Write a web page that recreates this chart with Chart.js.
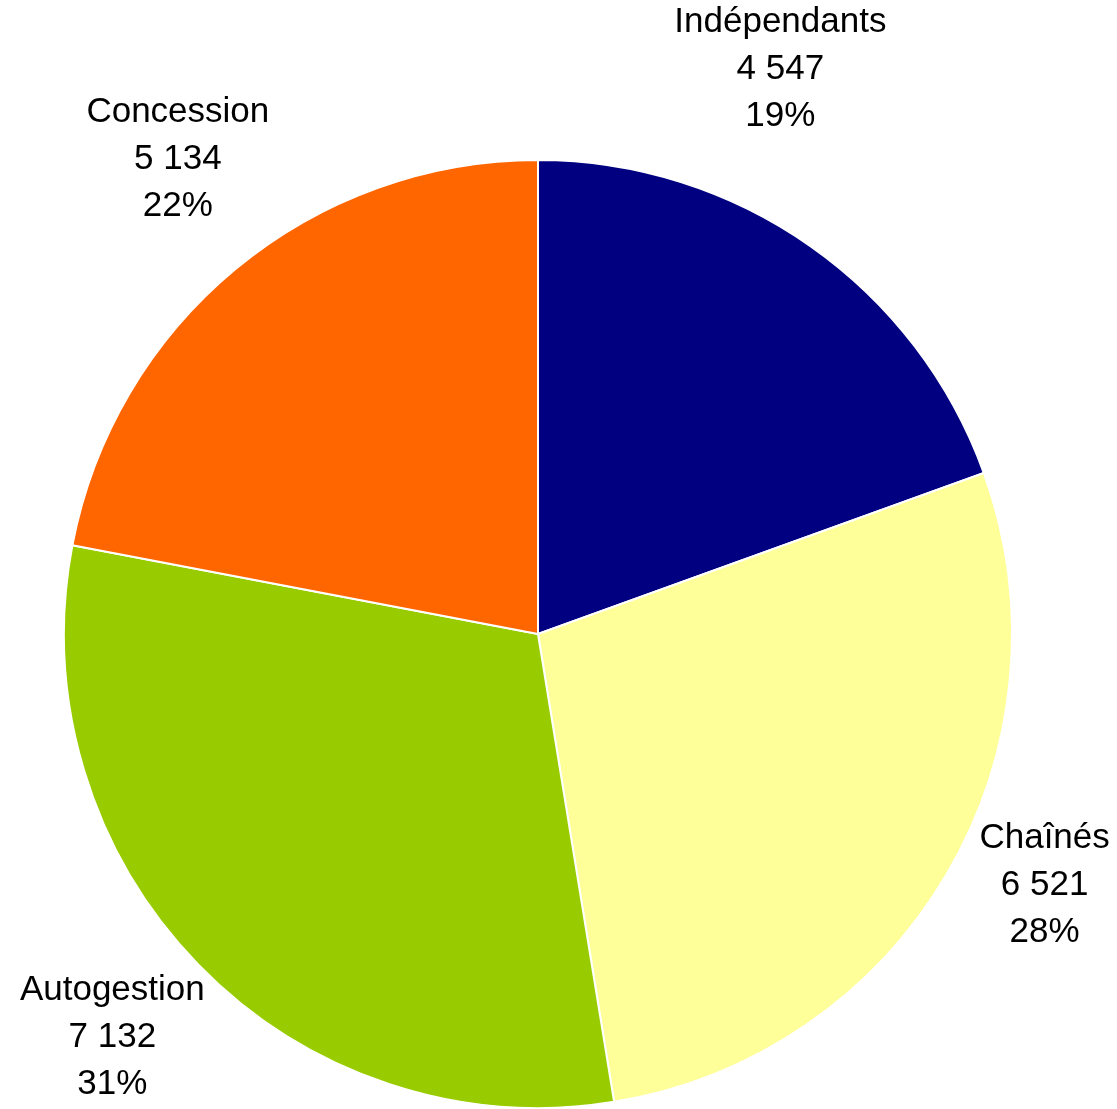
<!DOCTYPE html>
<html>
<head>
<meta charset="utf-8">
<script src="https://cdn.jsdelivr.net/npm/chart.js@4"></script>
<style>
html,body{margin:0;padding:0;background:#fff;}
canvas{display:block;}
</style>
</head>
<body>
<canvas id="c" width="1117" height="1109"></canvas>
<script>
const categories = ["Indépendants", "Chaînés", "Autogestion", "Concession"];
const values = [4547, 6521, 7132, 5134];
const colors = ["#000080", "#FFFF99", "#99CC00", "#FF6600"];

function fmt(n){ return String(n).replace(/\B(?=(\d{3})+(?!\d))/g, " "); }

// label offsets (layout only) relative to the arc's outer mid-point
const labelOffsets = [[-30,-177],[98,11],[-86,73],[-58,-109]];

const labelPlugin = {
  id: 'pieLabels',
  afterDatasetsDraw(chart){
    const ctx = chart.ctx;
    const meta = chart.getDatasetMeta(0);
    const data = chart.data.datasets[0].data;
    const total = data.reduce((a,b)=>a+b,0);
    ctx.save();
    ctx.font = '35px "Liberation Sans", Arial, sans-serif';
    ctx.fillStyle = '#000';
    ctx.textAlign = 'center';
    ctx.textBaseline = 'middle';
    meta.data.forEach((arc, i) => {
      const p = arc.getProps(['x','y','startAngle','endAngle','outerRadius'], true);
      const mid = (p.startAngle + p.endAngle)/2;
      const ax = p.x + Math.cos(mid)*p.outerRadius + labelOffsets[i][0];
      const ay = p.y + Math.sin(mid)*p.outerRadius + labelOffsets[i][1];
      const lines = [chart.data.labels[i], fmt(data[i]), Math.round(data[i]/total*100) + '%'];
      const lh = 47;
      lines.forEach((t, k) => ctx.fillText(t, ax, ay + (k-1)*lh));
    });
    ctx.restore();
  }
};

new Chart(document.getElementById('c'), {
  type: 'pie',
  data: {
    labels: categories,
    datasets: [{
      data: values,
      backgroundColor: colors,
      borderColor: '#ffffff',
      borderWidth: 2
    }]
  },
  options: {
    responsive: false,
    animation: false,
    layout: { padding: { left: 63, right: 104, top: 159, bottom: 0 } },
    plugins: { legend: { display: false }, tooltip: { enabled: false } }
  },
  plugins: [labelPlugin]
});
</script>
</body>
</html>
